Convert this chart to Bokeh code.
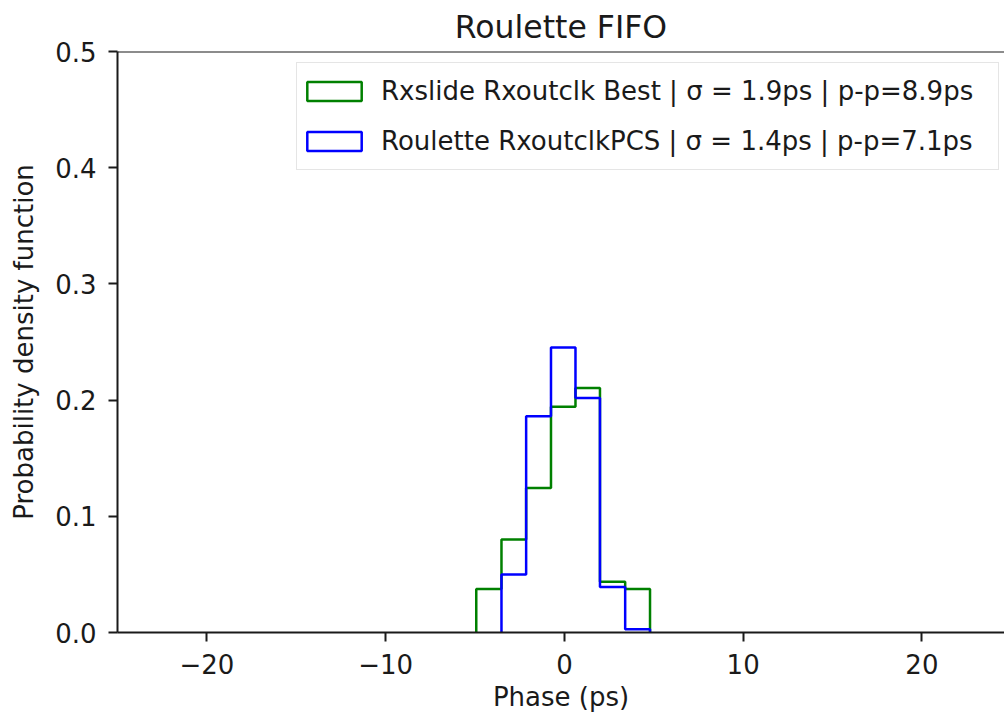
from bokeh.plotting import figure
from bokeh.models import Range1d, FixedTicker, Legend, LegendItem, Span
from bokeh.embed import file_html
from bokeh.resources import INLINE

# ---- data ----
title_text = "Roulette FIFO"
x_label = "Phase (ps)"
y_label = "Probability density function"

bin_edges = [-4.93, -3.52, -2.14, -0.75, 0.62, 1.99, 3.40, 4.79]
green_density = [0.0374, 0.0801, 0.1244, 0.1942, 0.2105, 0.0436, 0.0374]
blue_edges = [-3.52, -2.14, -0.75, 0.62, 1.99, 3.40, 4.79]
blue_density = [0.0500, 0.1860, 0.2453, 0.2017, 0.0391, 0.0027]

series_labels = [
    "Rxslide Rxoutclk Best | σ = 1.9ps | p-p=8.9ps",
    "Roulette RxoutclkPCS | σ = 1.4ps | p-p=7.1ps",
]
series_colors = ["#008000", "#0000ff"]

x_ticks = [-20, -10, 0, 10, 20]
x_tick_labels = ["−20", "−10", "0", "10", "20"]
y_ticks = [0.0, 0.1, 0.2, 0.3, 0.4, 0.5]
y_tick_labels = ["0.0", "0.1", "0.2", "0.3", "0.4", "0.5"]

FONT = "DejaVu Sans"
INK = "#1a1a1a"


def step_outline(edges, heights):
    xs, ys = [edges[0]], [0.0]
    for i, h in enumerate(heights):
        xs += [edges[i], edges[i + 1]]
        ys += [h, h]
    xs.append(edges[-1])
    ys.append(0.0)
    return xs, ys


p = figure(
    width=1004, height=716,
    x_range=Range1d(-25, 24.62), y_range=Range1d(0, 0.5),
    output_backend="svg", toolbar_location=None,
    min_border_left=117, min_border_right=0,
    min_border_top=50, min_border_bottom=84,
    background_fill_color="white", border_fill_color="white",
)
p.outline_line_color = None
p.grid.visible = False

# title
p.title.text = title_text
p.title.text_font = FONT
p.title.text_font_size = "31.5px"
p.title.text_font_style = "normal"
p.title.text_color = INK
p.title.align = "center"
p.title.standoff = 13

# axes
for ax in (p.xaxis[0], p.yaxis[0]):
    ax.axis_line_color = INK
    ax.axis_line_width = 2
    ax.major_tick_line_color = INK
    ax.major_tick_line_width = 2
    ax.major_tick_out = 9
    ax.major_tick_in = 0
    ax.minor_tick_line_color = None
    ax.major_label_text_font = FONT
    ax.major_label_text_font_size = "26px"
    ax.major_label_text_color = INK
    ax.axis_label_text_font = FONT
    ax.axis_label_text_font_size = "26px"
    ax.axis_label_text_font_style = "normal"
    ax.axis_label_text_color = INK

p.xaxis.ticker = FixedTicker(ticks=x_ticks)
p.xaxis.major_label_overrides = {t: s for t, s in zip(x_ticks, x_tick_labels)}
p.xaxis.axis_label = x_label
p.xaxis.major_label_standoff = 12
p.xaxis.axis_label_standoff = 5

p.yaxis.ticker = FixedTicker(ticks=y_ticks)
p.yaxis.major_label_overrides = {t: s for t, s in zip(y_ticks, y_tick_labels)}
p.yaxis.axis_label = y_label
p.yaxis.major_label_standoff = 12
p.yaxis.axis_label_standoff = 13

# top spine
p.add_layout(Span(location=0.5, dimension="width", line_color=INK, line_width=2))

# histograms (step outlines)
gx, gy = step_outline(bin_edges, green_density)
bx, by = step_outline(blue_edges, blue_density)
p.line(gx, gy, line_color=series_colors[0], line_width=2.5)
p.line(bx, by, line_color=series_colors[1], line_width=2.5)

# legend proxies: the same bins as hidden outlined quads (drawn only in the legend)
proxies = []
for edges, dens, c in [(bin_edges, green_density, series_colors[0]),
                       (blue_edges, blue_density, series_colors[1])]:
    r = p.quad(left=edges[:-1], right=edges[1:], top=dens, bottom=[0.0] * len(dens),
               fill_alpha=0, line_color=c, line_width=2.5)
    r.visible = False
    proxies.append(r)

legend = Legend(
    items=[LegendItem(label=lab, renderers=[r]) for lab, r in zip(series_labels, proxies)],
    location=(179, 462),
    label_text_font=FONT, label_text_font_size="26px", label_text_color=INK,
    glyph_width=68, glyph_height=24,
    label_height=50, label_width=614, label_standoff=13,
    spacing=0, padding=3, margin=0,
    border_line_color="#cccccc", border_line_width=1.5,
    background_fill_color="white", background_fill_alpha=0.8,
    inactive_fill_alpha=0,
)
p.add_layout(legend)

open("out.html", "w").write(file_html(p, INLINE))
